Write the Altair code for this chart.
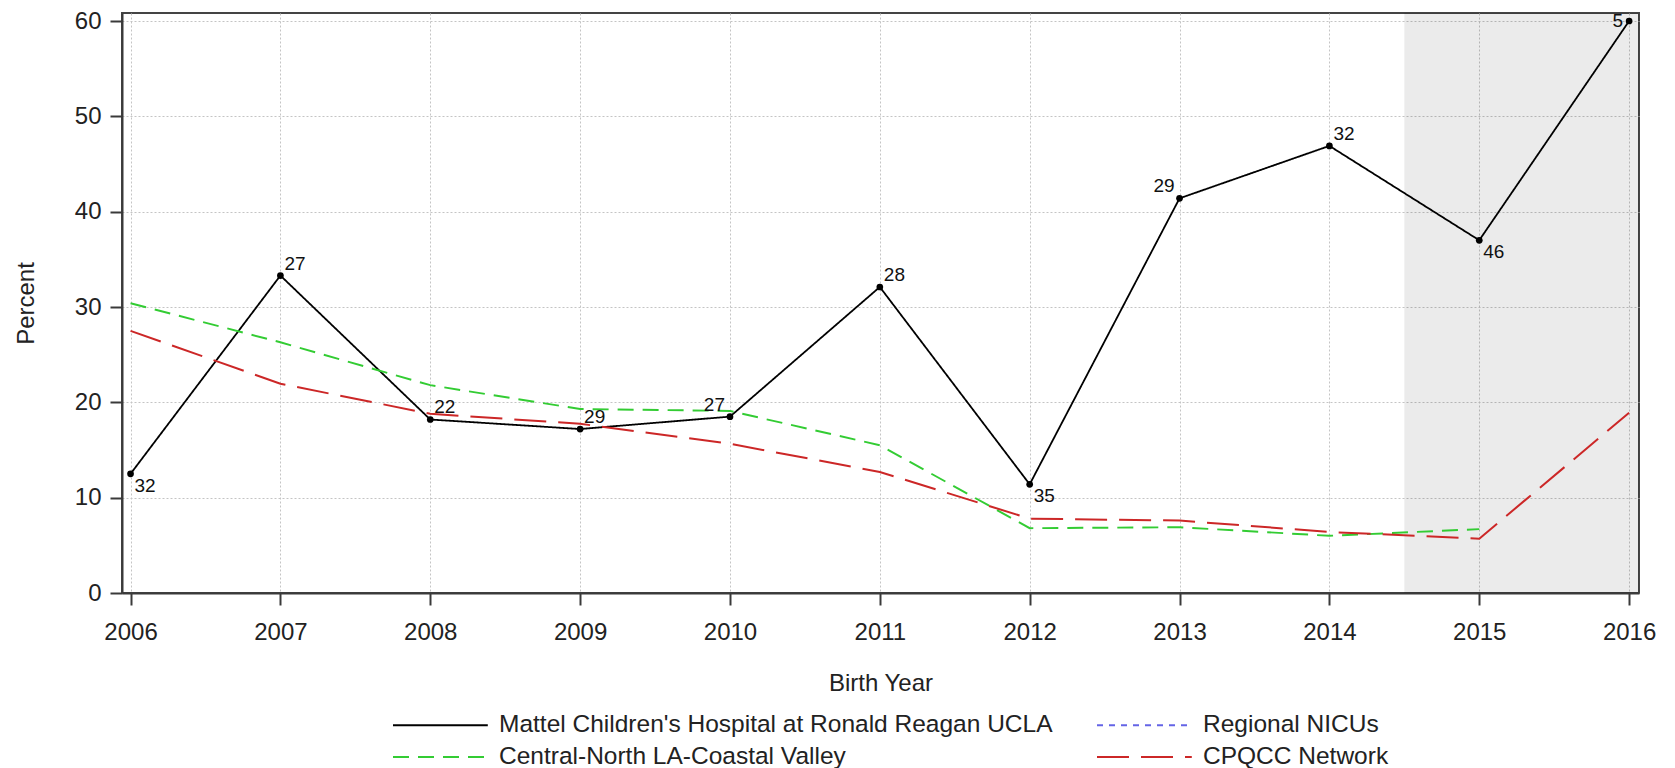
import altair as alt
import pandas as pd

years = list(range(2006, 2017))
mattel = [12.5, 33.3, 18.2, 17.2, 18.5, 32.1, 11.4, 41.4, 46.9, 37.0, 60.0]
mattel_n = ["32", "27", "22", "29", "27", "28", "35", "29", "32", "46", "5"]
label_side = ["below", "above", "above", "above", "aboveleft", "above",
              "below", "aboveleft", "above", "below", "left"]
central = [30.4, 26.3, 21.8, 19.3, 19.1, 15.5, 6.8, 6.9, 6.0, 6.7, None]
cpqcc = [27.5, 21.95, 18.8, 17.75, 15.65, 12.7, 7.8, 7.6, 6.4, 5.7, 18.9]

series_names = ["Mattel Children's Hospital at Ronald Reagan UCLA",
                "Regional NICUs",
                "Central-North LA-Coastal Valley",
                "CPQCC Network"]
series_colors = ["#000000", "#6464e6", "#33cc33", "#cc2727"]
series_dashes = [[1, 0], [6, 6], [16, 9], [32, 12]]
series_widths = [1.8, 2, 2, 2]
shade_start = [2014.5]
y_ticks = [0, 10, 20, 30, 40, 50, 60]

FONT = "Liberation Sans"

rows = []
for name, vals in [(series_names[0], mattel), (series_names[2], central), (series_names[3], cpqcc)]:
    for yr, v in zip(years, vals):
        if v is not None:
            rows.append({"year": yr, "value": v, "series": name})
lines_df = pd.DataFrame(rows)
pts_df = pd.DataFrame({"year": years, "value": mattel, "n": mattel_n, "side": label_side})
shade_df = pd.DataFrame({"year": shade_start})

x_scale = alt.Scale(domain=[2005.943, 2016.066], nice=False, zero=False)
y_scale = alt.Scale(domain=[0, 60.84], nice=False)

x_enc = alt.X("year:Q", scale=x_scale,
              axis=alt.Axis(values=years, format="d", title="Birth Year",
                            labelPadding=15, titleY=97, titleBaseline="alphabetic",
                            labelFlush=False, labelOverlap=False, grid=True))
y_enc = alt.Y("value:Q", scale=y_scale,
              axis=alt.Axis(values=y_ticks, title="Percent", labelPadding=9,
                            titleX=-89, titleY=290, titleAngle=270,
                            titleBaseline="alphabetic", titleAlign="center", grid=True))

legend = alt.Legend(title=None, orient="none", legendX=270, legendY=699,
                    columns=2, direction="horizontal",
                    symbolType="M-1,0H6.9", symbolSize=576, symbolStrokeWidth=2,
                    labelFontSize=24.5, labelFont=FONT, labelColor="#222",
                    labelLimit=1000, labelOffset=81, columnPadding=40, rowPadding=7)

shade = alt.Chart(shade_df).mark_rect(fill="#000000", fillOpacity=0.078).encode(
    x=x_enc, x2=alt.value("width"), y=alt.value(0), y2=alt.value("height"))

lines = alt.Chart(lines_df).mark_line().encode(
    x=x_enc, y=y_enc,
    color=alt.Color("series:N", scale=alt.Scale(domain=series_names, range=series_colors),
                    legend=legend, sort=series_names),
    strokeDash=alt.StrokeDash("series:N", scale=alt.Scale(domain=series_names, range=series_dashes),
                              legend=legend, sort=series_names),
    strokeWidth=alt.StrokeWidth("series:N", scale=alt.Scale(domain=series_names, range=series_widths),
                                legend=None),
)

points = alt.Chart(pts_df).mark_point(filled=True, size=45, color="#000000", opacity=1).encode(
    x=x_enc, y=y_enc)

def labels(side, align, dx, dy):
    return alt.Chart(pts_df).transform_filter(alt.datum.side == side).mark_text(
        align=align, baseline="middle", dx=dx, dy=dy, fontSize=19, font=FONT, color="#111"
    ).encode(x=x_enc, y=y_enc, text="n:N")

chart = alt.layer(
    shade, lines, points,
    labels("above", "left", 4, -12),
    labels("below", "left", 4, 12),
    labels("aboveleft", "right", -5, -12),
    labels("left", "right", -6, 0),
).properties(
    width=1517, height=580,
    autosize=alt.AutoSizeParams(type="none"),
    padding={"left": 114, "top": 5, "right": 20, "bottom": 175},
).configure_axis(
    labelFont=FONT, titleFont=FONT, labelFontSize=24, titleFontSize=24,
    labelColor="#222", titleColor="#222", titleFontWeight="normal",
    domainColor="#3a3a3a", domainWidth=2, tickColor="#3a3a3a", tickWidth=2, tickSize=12,
    gridColor="#c4c4c4", gridDash=[2, 2], gridWidth=1,
).configure_view(stroke="#444", strokeWidth=2)

chart.save("out.html", embed_options={"renderer": "svg", "actions": False})
